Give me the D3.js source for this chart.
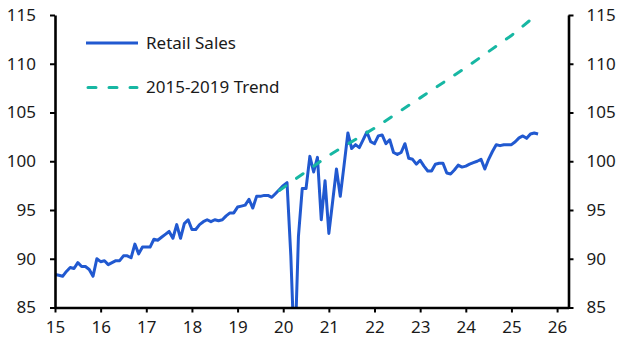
<!DOCTYPE html>
<html>
<head>
<meta charset="utf-8">
<script src="https://cdn.jsdelivr.net/npm/d3@7"></script>
<style>
  html, body { margin: 0; padding: 0; background: #fff; }
  svg { display: block; }
  text { font-family: "Noto Sans", sans-serif; fill: #1a1a1a; }
</style>
</head>
<body>
<svg id="chart" width="630" height="357"></svg>
<script>
// ---- Data ----
const startYear = 2015; // first monthly observation: Jan 2015
const retailSales = [
  88.4, 88.3, 88.2, 88.7, 89.1, 89.0, 89.6, 89.2, 89.2, 88.9, 88.2, 90.0,
  89.7, 89.8, 89.4, 89.6, 89.8, 89.8, 90.3, 90.3, 90.1, 91.5, 90.5, 91.2,
  91.2, 91.2, 92.0, 91.9, 92.2, 92.5, 92.8, 92.1, 93.5, 92.1, 93.6, 94.0,
  93.0, 93.0, 93.5, 93.8, 94.0, 93.8, 94.0, 93.9, 94.0, 94.4, 94.7, 94.7,
  95.3, 95.4, 95.5, 96.1, 95.2, 96.4, 96.4, 96.5, 96.5, 96.3, 96.7, 97.1,
  97.5, 97.8, 90.3, 79.5, 92.3, 97.2, 97.2, 100.5, 98.9, 100.4, 94.0, 98.0,
  92.6, 95.9, 99.2, 96.4, 99.6, 102.9, 101.3, 101.7, 101.4, 102.2, 103.0, 102.0,
  101.8, 102.6, 102.7, 101.8, 102.2, 100.9, 100.7, 100.9, 101.8, 100.3, 100.2, 99.7,
  100.1, 99.5, 99.0, 99.0, 99.7, 99.8, 99.8, 98.8, 98.7, 99.1, 99.6, 99.4,
  99.5, 99.7, 99.85, 100.0, 100.2, 99.2, 100.2, 101.0, 101.7, 101.6, 101.7, 101.7,
  101.7, 102.0, 102.4, 102.6, 102.35, 102.8, 102.9, 102.8
];
// 2015-2019 trend: month index (from Jan 2015) and value
const trendMonths = [59, 72, 84, 96, 108, 120, 125];
const trendValues = [97.0, 100.6, 103.4, 106.5, 109.6, 112.9, 114.5];

const seriesNames = ["Retail Sales", "2015-2019 Trend"];
const xTicks = [2015, 2016, 2017, 2018, 2019, 2020, 2021, 2022, 2023, 2024, 2025, 2026];
const xTickLabels = ["15", "16", "17", "18", "19", "20", "21", "22", "23", "24", "25", "26"];
const yTicks = [85, 90, 95, 100, 105, 110, 115];

// ---- Layout ----
const colors = { sales: "#2159d0", trend: "#17b7a3", axis: "#000" };
const svg = d3.select("#chart");
const x = d3.scaleLinear().domain([2015, 2026.25]).range([55, 568.5]);
const y = d3.scaleLinear().domain([85, 115]).range([307.5, 15]);
const fontSize = 17;

svg.append("defs").append("clipPath").attr("id", "plotClip")
  .append("rect")
  .attr("x", x.range()[0]).attr("y", y.range()[1])
  .attr("width", x.range()[1] - x.range()[0])
  .attr("height", y.range()[0] - y.range()[1]);

const salesData = retailSales.map((v, i) => ({ t: startYear + i / 12, v }));
const trendData = trendMonths.map((m, i) => ({ t: startYear + m / 12, v: trendValues[i] }));

const line = d3.line().x(d => x(d.t)).y(d => y(d.v));

const plot = svg.append("g").attr("clip-path", "url(#plotClip)");
plot.append("path").datum(salesData)
  .attr("d", line).attr("fill", "none")
  .attr("stroke", colors.sales).attr("stroke-width", 3)
  .attr("stroke-linejoin", "round");
plot.append("path").datum(trendData)
  .attr("d", line).attr("fill", "none")
  .attr("stroke", colors.trend).attr("stroke-width", 3)
  .attr("stroke-dasharray", "8,13").attr("stroke-linecap", "round");

// ---- Axes ----
function styleAxis(g) {
  g.select(".domain").attr("stroke", colors.axis).attr("stroke-width", 2.6);
  g.selectAll(".tick line").attr("stroke", colors.axis).attr("stroke-width", 2);
  g.selectAll(".tick text").attr("font-size", fontSize).attr("fill", "#1a1a1a")
    .attr("font-family", "Noto Sans, sans-serif");
}

const xAxis = d3.axisBottom(x).tickValues(xTicks)
  .tickFormat((d, i) => xTickLabels[i]).tickSizeInner(5).tickSizeOuter(0).tickPadding(8);
svg.append("g").attr("transform", `translate(0,${y.range()[0]})`).call(xAxis).call(styleAxis);

const yAxisL = d3.axisLeft(y).tickValues(yTicks).tickSizeInner(5).tickSizeOuter(0).tickPadding(14);
svg.append("g").attr("transform", `translate(${x.range()[0]},0)`).call(yAxisL).call(styleAxis);

const yAxisR = d3.axisRight(y).tickValues(yTicks).tickSizeInner(5).tickSizeOuter(0).tickPadding(13);
svg.append("g").attr("transform", `translate(${x.range()[1]},0)`).call(yAxisR).call(styleAxis);

// ---- Legend ----
const legend = svg.append("g");
const legendY = [43, 87.5];
legend.append("line").attr("x1", 86).attr("x2", 138).attr("y1", legendY[0]).attr("y2", legendY[0])
  .attr("stroke", colors.sales).attr("stroke-width", 3);
legend.append("line").attr("x1", 88).attr("x2", 137).attr("y1", legendY[1]).attr("y2", legendY[1])
  .attr("stroke", colors.trend).attr("stroke-width", 3)
  .attr("stroke-dasharray", "8,13").attr("stroke-linecap", "round");
seriesNames.forEach((name, i) => {
  legend.append("text").attr("x", 146).attr("y", legendY[i])
    .attr("dy", "0.35em").attr("font-size", fontSize).text(name);
});
</script>
</body>
</html>
